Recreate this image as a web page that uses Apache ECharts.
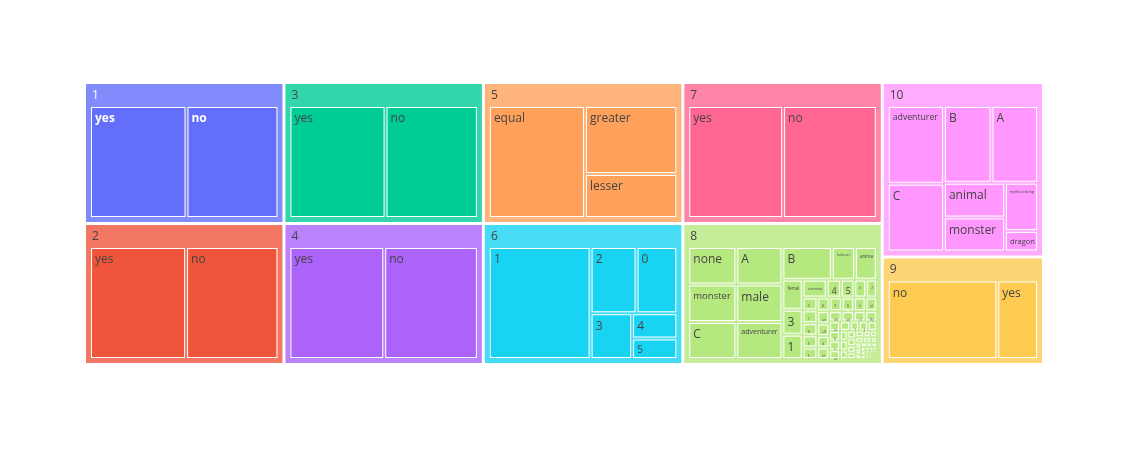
<!DOCTYPE html>
<html><head><meta charset="utf-8">
<script src="https://cdn.jsdelivr.net/npm/echarts@6/dist/echarts.min.js"></script>
<style>html,body{margin:0;padding:0;background:#fff}#chart{width:1128px;height:450px}</style>
</head><body><div id="chart"></div>
<script>
// ---- data ----
const groupNames = ['1', '2', '3', '4', '5', '6', '7', '8', '10', '9'];
const groupTotals = [100, 100, 100, 100, 100, 100, 100, 100, 100, 61.7];

const g1Labels = ['yes', 'no'];
const g1Values = [51.2, 48.8];
const g2Labels = ['yes', 'no'];
const g2Values = [51, 49];
const g3Labels = ['yes', 'no'];
const g3Values = [51, 49];
const g4Labels = ['yes', 'no'];
const g4Values = [50.3, 49.7];
const g5Labels = ['equal', 'greater', 'lesser'];
const g5Values = [51, 29.7, 19.3];
const g6Labels = ['1', '2', '0', '3', '4', '5'];
const g6Values = [54, 14.4, 12.8, 9.0, 5.4, 4.4];
const g7Labels = ['yes', 'no'];
const g7Values = [50.3, 49.7];
const g8Labels = ['none', 'monster', 'C', 'A', 'male', 'adventurer', 'B', 'herbivore', 'animal',
  'female', '3', '1', 'carnivore', '4', '5', '6',
  '2', '0', '7', 'D', 'E', 'F', '8', '9', 'G', 'human', 'plant', 'undead', 'elf', 'dwarf', 'orc',
  'child', 'adult', 'elder', 'flying', 'water', 'fire', 'earth', 'air', 'H', 'I', 'J', 'K', 'L',
  'M', 'N', 'O', 'P', 'Q', 'R', 'S', 'T', 'U', 'V', 'W', 'X', 'Y', 'Z', '10', '11', '12', '13', '14',
  '15', '16', '17', '18', '19', '20', '21', '22', '23', '24', '25', '26', '27', '28', '29', '30'];
const g8Values = [8.6, 8.55, 8.5, 8.25, 8.2, 8.15, 7.7, 3.6, 3.4,
  2.9, 2.4, 2.35, 2.05, 1.2, 1.15, 1.0,
  0.9, 0.9, 0.9, 0.85, 0.85, 0.8, 0.8, 0.8, 0.8, 0.75, 0.73, 0.7, 0.7, 0.65, 0.65,
  0.6, 0.6, 0.55, 0.55, 0.5, 0.5, 0.5, 0.45, 0.45, 0.4, 0.4, 0.4, 0.35,
  0.35, 0.3, 0.3, 0.3, 0.25, 0.25, 0.25, 0.2, 0.2, 0.2, 0.2, 0.15, 0.15, 0.15, 0.12, 0.12, 0.1, 0.1, 0.1,
  0.08, 0.08, 0.07, 0.07, 0.06, 0.06, 0.05, 0.05, 0.05, 0.04, 0.04, 0.04, 0.03, 0.03, 0.03, 0.03];
const g10Labels = ['adventurer', 'C', 'B', 'A', 'animal', 'monster', 'mythical being', 'dragon'];
const g10Values = [20, 17.4, 16.7, 16.3, 9.7, 9.5, 7.3, 3.1];
const g9Labels = ['no', 'yes'];
const g9Values = [45, 16.7];

const groupLeafLabels = [g1Labels, g2Labels, g3Labels, g4Labels, g5Labels, g6Labels, g7Labels, g8Labels, g10Labels, g9Labels];
const groupLeafValues = [g1Values, g2Values, g3Values, g4Values, g5Values, g6Values, g7Values, g8Values, g10Values, g9Values];

// ---- styles ----
const groupColors = ['#636efa', '#EF553B', '#00cc96', '#ab63fa', '#FFA15A', '#19d3f3', '#FF6692', '#B6E880', '#FF97FF', '#FECB52'];
const headerColors = ['#828bfb', '#f27762', '#33d6ab', '#bc82fb', '#ffb47b', '#47dcf5', '#ff85a8', '#c5ed99', '#ffacff', '#fed575'];
const textColors = ['#fff', '#444', '#444', '#444', '#444', '#444', '#444', '#444', '#444', '#444'];
const labelSizes = {
  '8/monster': 9.5, '8/adventurer': 7, '8/herbivore': 3, '8/animal': 4.5, '8/female': 4.5,
  '8/carnivore': 4, '8/3': 12, '8/1': 12, '8/4': 8.5, '8/5': 8.5, '8/6': 3, '6/5': 10,
  '10/adventurer': 8.7, '10/mythical being': 3.5, '10/dragon': 7.5
};

const data = groupNames.map((g, gi) => ({
  name: g,
  value: groupTotals[gi],
  itemStyle: { color: groupColors[gi], borderColor: headerColors[gi] },
  upperLabel: { color: textColors[gi] },
  children: groupLeafLabels[gi].map((n, li) => {
    let fs = labelSizes[g + '/' + n];
    if (fs === undefined) fs = (g === '8' && li > 15) ? 3 : 12;
    return {
      name: n,
      value: groupLeafValues[gi][li],
      itemStyle: { color: groupColors[gi], borderColor: '#fff' },
      label: { color: textColors[gi], fontSize: fs, fontWeight: gi === 0 ? 'bold' : 'normal' }
    };
  })
}));

const chart = echarts.init(document.getElementById('chart'), null, { renderer: 'canvas' });
chart.setOption({
  animation: false,
  series: [{
    type: 'treemap',
    left: 86, top: 84, width: 956, height: 279,
    roam: false,
    nodeClick: false,
    sort: false,
    squareRatio: 1,
    visibleMin: 0,
    breadcrumb: { show: false },
    label: {
      show: true, position: 'insideTopLeft', distance: 0, padding: [5, 0, -10, 3],
      fontFamily: 'Open Sans', fontSize: 12, color: '#444', overflow: 'truncate', ellipsis: ''
    },
    upperLabel: {
      show: true, height: 23, position: 'insideLeft', distance: 0, padding: [0, 0, 0, 1],
      fontFamily: 'Open Sans', fontSize: 12, color: '#444'
    },
    emphasis: { disabled: true },
    levels: [
      { itemStyle: { borderWidth: 0, gapWidth: 3, borderColor: '#fff' }, upperLabel: { show: false } },
      { itemStyle: { borderWidth: 5, gapWidth: 2 }, upperLabel: { show: true } },
      { itemStyle: { borderWidth: 1, gapWidth: 0 } }
    ],
    data: data
  }]
});
</script>
</body></html>
